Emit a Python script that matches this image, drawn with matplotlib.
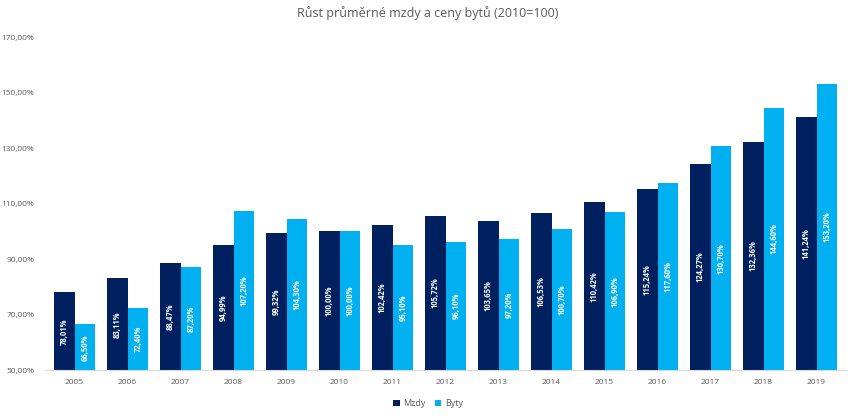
import matplotlib
matplotlib.use("Agg")
import matplotlib.pyplot as plt
import numpy as np

years = [str(y) for y in range(2005, 2020)]
mzdy = [78.01, 83.11, 88.47, 94.99, 99.32, 100.00, 102.42, 105.72, 103.65,
        106.53, 110.42, 115.24, 124.27, 132.36, 141.24]
byty = [66.50, 72.40, 87.20, 107.20, 104.30, 100.00, 95.10, 96.10, 97.20,
        100.70, 106.90, 117.60, 130.70, 144.60, 153.20]
yticks = [50, 70, 90, 110, 130, 150, 170]

c_mzdy = '#002060'
c_byty = '#00B0F0'
grey = '#595959'


def fmt(v):
    return f'{v:.2f}'.replace('.', ',') + '%'


plt.rcParams['font.family'] = ['Open Sans', 'DejaVu Sans']

fig = plt.figure(figsize=(8.56, 4.16), dpi=100)
ax = fig.add_axes([0.053, 0.11, 0.935, 0.801])

x = np.arange(len(years))
w = 0.39
base = 50
b1 = ax.bar(x - w / 2, np.array(mzdy) - base, w, bottom=base, color=c_mzdy, label='Mzdy')
b2 = ax.bar(x + w / 2, np.array(byty) - base, w, bottom=base, color=c_byty, label='Byty')

for bars, vals in ((b1, mzdy), (b2, byty)):
    for rect, v in zip(bars, vals):
        ax.text(rect.get_x() + rect.get_width() / 2, (base + v) / 2, fmt(v),
                rotation=90, ha='center', va='center', color='white',
                fontsize=5.5, fontweight='bold')

ax.set_ylim(50, 170)
ax.set_xlim(-0.55, len(years) - 0.45)
ax.set_yticks(yticks)
ax.set_yticklabels([fmt(v) for v in yticks])
ax.set_xticks(x)
ax.set_xticklabels(years)
ax.tick_params(axis='both', length=0, labelsize=6, colors=grey)
ax.tick_params(axis='y', pad=8)
ax.tick_params(axis='x', pad=6)
for s in ('top', 'right', 'left'):
    ax.spines[s].set_visible(False)
ax.spines['bottom'].set_color('#D9D9D9')

fig.suptitle('Růst průměrné mzdy a ceny bytů (2010=100)', y=0.985,
             fontsize=9, color=grey)
fig.legend(handles=[b1, b2], loc='lower center', ncol=2, frameon=False,
           fontsize=6.5, bbox_to_anchor=(0.5, 0.0), handlelength=0.7,
           handleheight=0.7, columnspacing=1.0, handletextpad=0.4,
           labelcolor=grey)

fig.savefig('out.png', dpi=100)
